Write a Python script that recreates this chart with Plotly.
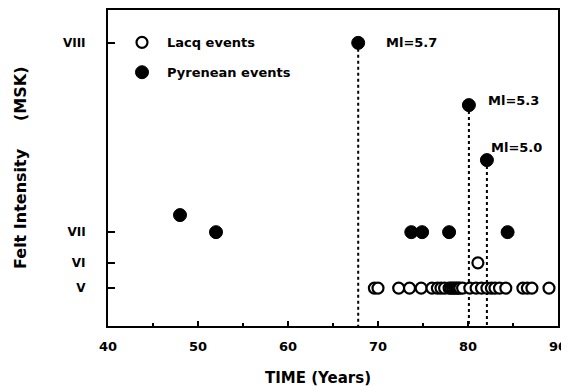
import plotly.graph_objects as go

# ---- data ----
intensity_ticks = [12.0, 20.0, 29.7, 89.6]
intensity_labels = ["V", "VI", "VII", "VIII"]

lacq_years = [69.6, 70.0, 72.3, 73.5, 74.8, 76.0, 76.6, 77.0, 77.4, 77.9, 78.1, 78.3,
              78.5, 78.7, 78.9, 79.1, 79.4, 80.2, 80.9, 81.5, 82.1, 82.6, 83.0, 83.5,
              84.2, 86.1, 86.6, 87.1, 89.0, 81.1]
lacq_intensity = [12.0] * 29 + [20.0]

pyr_years = [48.0, 52.0, 67.8, 73.7, 74.9, 77.9, 80.1, 82.1, 84.4]
pyr_intensity = [35.1, 29.7, 89.6, 29.7, 29.7, 29.7, 69.9, 52.5, 29.7]

major_years = [67.8, 80.1, 82.1]
major_intensity = [89.6, 69.9, 52.5]
major_labels = ["Ml=5.7", "Ml=5.3", "Ml=5.0"]
label_shift = [(26, 0), (17, 5), (2, 13)]

x_ticks = [40, 50, 60, 70, 80, 90]

FONT = "DejaVu Sans"

fig = go.Figure()

# dotted drop lines for major events
for xv, yv in zip(major_years, major_intensity):
    fig.add_trace(go.Scatter(x=[xv, xv], y=[yv, 0], mode="lines",
                             line=dict(color="black", width=2, dash="dot"),
                             showlegend=False, hoverinfo="skip"))

fig.add_trace(go.Scatter(x=lacq_years, y=lacq_intensity, mode="markers",
                         name="Lacq events", legendgroup="a",
                         marker=dict(symbol="circle", size=11, color="white",
                                     line=dict(color="black", width=2.2))))
fig.add_trace(go.Scatter(x=pyr_years, y=pyr_intensity, mode="markers",
                         name="Pyrenean events", legendgroup="b",
                         marker=dict(symbol="circle", size=13, color="black",
                                     line=dict(color="black", width=1))))

for xv, yv, t, (dx, dy) in zip(major_years, major_intensity, major_labels, label_shift):
    fig.add_annotation(x=xv, y=yv, text=t, showarrow=False, xanchor="left",
                       yanchor="middle", xshift=dx, yshift=dy,
                       font=dict(family=FONT, size=13, color="black", weight="bold"))

# axis titles
fig.add_annotation(xref="paper", yref="paper", x=0.467, y=0, yshift=-52,
                   xanchor="center", yanchor="middle",
                   text="TIME (Years)", showarrow=False,
                   font=dict(family=FONT, size=15, color="black", weight="bold"))
fig.add_annotation(xref="paper", yref="paper", x=0, y=0.5, xshift=-88,
                   xanchor="center", yanchor="middle",
                   text="Felt Intensity&nbsp;&nbsp;&nbsp;&nbsp;&nbsp;(MSK)", showarrow=False,
                   textangle=-90,
                   font=dict(family=FONT, size=16, color="black", weight="bold"))

fig.update_layout(
    width=561, height=378,
    margin=dict(l=100, r=11, t=2, b=60, autoexpand=False),
    paper_bgcolor="white", plot_bgcolor="white",
    font=dict(family=FONT, color="black", weight="bold"),
    legend=dict(x=0.02, y=0.945, xanchor="left", yanchor="top",
                bgcolor="rgba(0,0,0,0)", tracegroupgap=10, itemwidth=40,
                font=dict(family=FONT, size=13, weight="bold")),
    xaxis=dict(range=[40, 90], tickvals=x_ticks, ticks="inside", ticklen=5,
               tickwidth=1.5, tickcolor="black", automargin=False,
               minor=dict(ticks="inside", dtick=5, tick0=40, ticklen=3, tickcolor="black"),
               showline=True, linecolor="black", linewidth=2, mirror=True,
               showgrid=False, zeroline=False,
               tickfont=dict(family=FONT, size=13, weight="bold"),
               ticklabelstandoff=7),
    yaxis=dict(range=[0, 100], tickvals=intensity_ticks, ticktext=intensity_labels,
               ticks="inside", ticklen=7, tickwidth=1.5, tickcolor="black",
               automargin=False,
               showline=True, linecolor="black", linewidth=2, mirror=True,
               showgrid=False, zeroline=False,
               tickfont=dict(family=FONT, size=12, weight="bold"),
               ticklabelstandoff=18),
)

fig.write_html("out.html")
